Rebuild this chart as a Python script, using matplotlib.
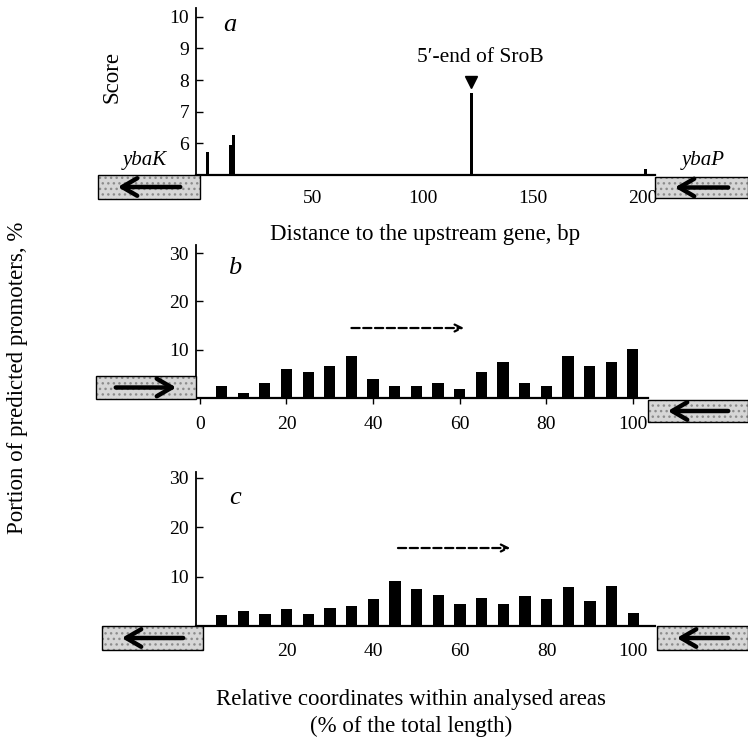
import matplotlib
matplotlib.use("Agg")
import matplotlib.pyplot as plt
from matplotlib.patches import Rectangle, FancyArrowPatch

plt.rcParams['font.family'] = ['Liberation Serif', 'DejaVu Serif']

# ---- data ----
score_pos = [2, 12.5, 14, 122, 201]
score_val = [5.73, 5.95, 6.27, 7.6, 5.2]
a_xticks = [50, 100, 150, 200]
a_yticks = [6, 7, 8, 9, 10]

rel_pos = [5, 10, 15, 20, 25, 30, 35, 40, 45, 50, 55, 60, 65, 70, 75, 80, 85, 90, 95, 100]
b_vals = [2.4, 1.1, 3.2, 6.0, 5.3, 6.7, 8.7, 3.9, 2.5, 2.5, 3.2, 1.8, 5.3, 7.4, 3.2, 2.5, 8.8, 6.7, 7.4, 10.1]
c_vals = [2.3, 3.0, 2.5, 3.4, 2.4, 3.6, 4.1, 5.5, 9.2, 7.5, 6.2, 4.5, 5.7, 4.5, 6.0, 5.5, 7.9, 5.1, 8.2, 2.7]
b_xticks = [0, 20, 40, 60, 80, 100]
c_xticks = [20, 40, 60, 80, 100]
bc_yticks = [10, 20, 30]

W, H = 748, 750
fig = plt.figure(figsize=(W / 100, H / 100), dpi=100)


def ax_at(l, r, t, b):
    return fig.add_axes([l / W, 1 - b / H, (r - l) / W, (b - t) / H])


def fig_box(x0, x1, y0, y1, direction):
    # pixel coordinates, y downward
    xy = (x0 / W, 1 - y1 / H)
    w, h = (x1 - x0) / W, (y1 - y0) / H
    fig.patches.append(Rectangle(xy, w, h, transform=fig.transFigure, facecolor='#d6d6d6',
                                 edgecolor='#8c8c8c', lw=0, hatch='...', zorder=5))
    fig.patches.append(Rectangle(xy, w, h, transform=fig.transFigure, facecolor='none',
                                 edgecolor='black', lw=1.0, zorder=5.5))
    ym = 1 - (y0 + y1) / 2 / H
    xa, xb = x0 + 17, x1 - 17
    if direction == 'left':
        start, end = (xb / W, ym), (xa / W, ym)
    else:
        start, end = (xa / W, ym), (xb / W, ym)
    fig.add_artist(FancyArrowPatch(
        start, end, transform=fig.transFigure, arrowstyle='->,head_length=0.6,head_width=0.35',
        mutation_scale=18, lw=3.2, color='black', zorder=6))


def style(ax):
    for s in ['top', 'right']:
        ax.spines[s].set_visible(False)
    ax.spines['left'].set_linewidth(1.3)
    ax.spines['bottom'].set_linewidth(1.6)
    ax.tick_params(axis='y', direction='in', length=5, width=1, labelsize=14, pad=5)


# ---- panel a ----
axa = ax_at(196, 655, 8, 175)
style(axa)
axa.bar(score_pos, [v - 5 for v in score_val], bottom=5, width=1.4, color='black')
axa.set_xlim(-3.2, 205.5)
axa.set_ylim(5, 10.28)
axa.set_yticks(a_yticks)
axa.set_xticks(a_xticks)
axa.tick_params(axis='x', length=0, labelsize=14, pad=11)
axa.set_xlabel('Distance to the upstream gene, bp', fontsize=16.5, labelpad=12)
fig.text(112 / W, 1 - 77 / H, 'Score', rotation=90, fontsize=16.5, ha='center', va='center')
axa.text(12.3, 9.75, 'a', fontsize=19, style='italic', ha='center', va='center')
axa.plot([122], [7.94], marker='v', color='black', markersize=8, clip_on=False)
axa.text(126, 8.73, "5\u2032-end of SroB", fontsize=15.5, ha='center', va='center')

fig_box(98, 200, 175, 199, 'left')
fig_box(655, 748, 177, 198, 'left')
fig.text(145 / W, 1 - 161 / H, 'ybaK', fontsize=15, style='italic', ha='center', va='center')
fig.text(703 / W, 1 - 160 / H, 'ybaP', fontsize=15, style='italic', ha='center', va='center')

# ---- panel b ----
axb = ax_at(196, 648, 245, 398)
style(axb)
axb.bar(rel_pos, b_vals, width=2.6, color='black')
axb.set_xlim(-0.9, 103.5)
axb.set_ylim(0, 31.7)
axb.set_yticks(bc_yticks)
axb.set_xticks(b_xticks)
axb.tick_params(axis='x', direction='out', length=4, width=1, labelsize=14, pad=9)
axb.text(8, 27, 'b', fontsize=19, style='italic', ha='center', va='center')
axb.annotate('', xy=(61, 14.5), xytext=(35, 14.5),
             arrowprops=dict(arrowstyle='->,head_length=0.5,head_width=0.25', linestyle='--',
                             lw=1.6, color='black', shrinkA=0, shrinkB=0))
fig_box(96, 196, 376, 399, 'right')
fig_box(648, 748, 400, 422, 'left')

# ---- panel c ----
axc = ax_at(196, 655, 472, 626)
style(axc)
axc.bar(rel_pos, c_vals, width=2.6, color='black')
axc.set_xlim(-0.9, 105)
axc.set_ylim(0, 31.2)
axc.set_yticks(bc_yticks)
axc.set_xticks(c_xticks)
axc.tick_params(axis='x', direction='in', length=3, width=1, labelsize=14, pad=12)
axc.text(8, 26, 'c', fontsize=19, style='italic', ha='center', va='center')
axc.annotate('', xy=(71.6, 15.8), xytext=(45.7, 15.8),
             arrowprops=dict(arrowstyle='->,head_length=0.5,head_width=0.25', linestyle='--',
                             lw=1.6, color='black', shrinkA=0, shrinkB=0))
fig_box(102, 203, 626, 650, 'left')
fig_box(657, 748, 626, 650, 'left')

# ---- shared labels ----
fig.text(18 / W, 1 - 378 / H, 'Portion of predicted promoters, %', rotation=90,
         fontsize=16.5, ha='center', va='center')
fig.text(411 / W, 1 - 699 / H, 'Relative coordinates within analysed areas',
         fontsize=16.5, ha='center', va='center')
fig.text(411 / W, 1 - 726 / H, '(% of the total length)', fontsize=16.5, ha='center', va='center')

fig.savefig('out.png', dpi=100)
